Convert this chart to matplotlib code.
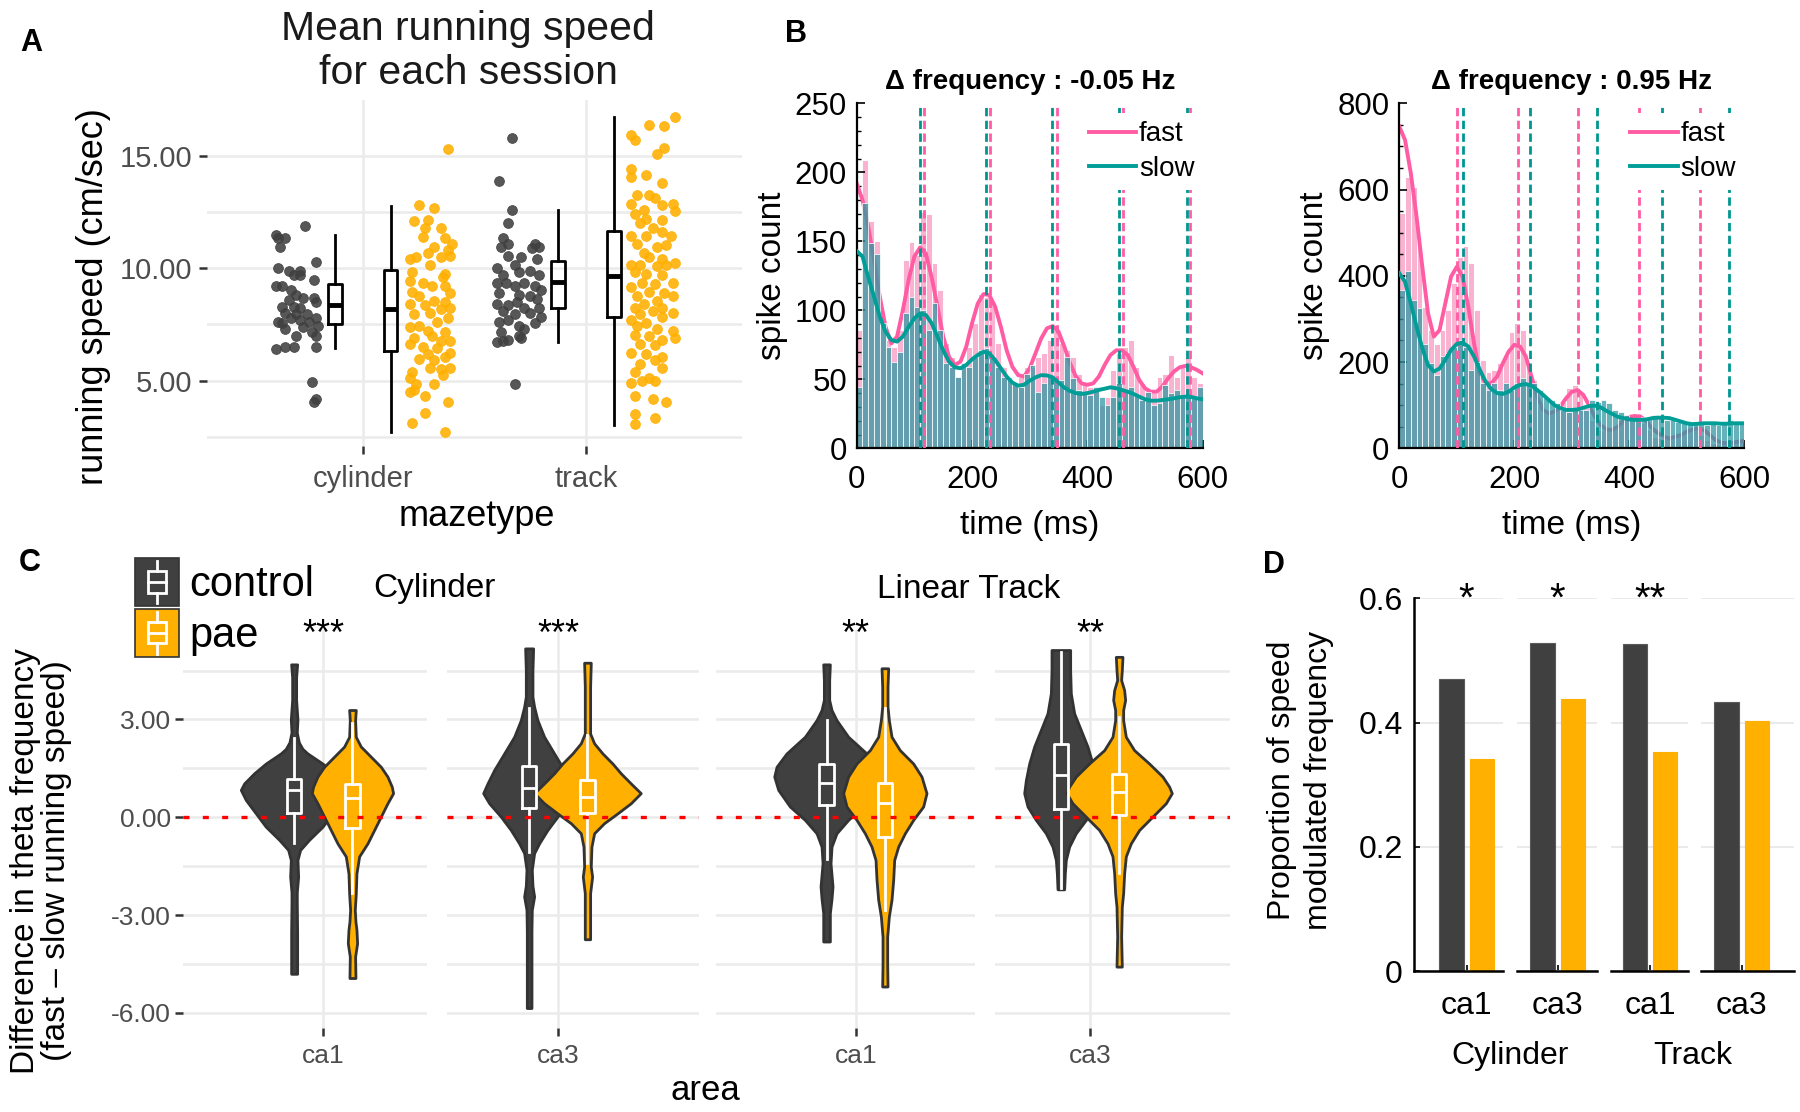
import numpy as np
import matplotlib
matplotlib.use('Agg')
import matplotlib.pyplot as plt
from matplotlib.ticker import MultipleLocator
from matplotlib.legend_handler import HandlerBase
from matplotlib.patches import Rectangle, Patch
from matplotlib.lines import Line2D

plt.rcParams['font.family'] = ['Liberation Sans', 'DejaVu Sans']

W, H = 1800, 1112
DARK = '#404040'
GOLD = '#FFB000'
PINK = '#FF5CA3'
TEAL = '#009E97'
GRID = '#EBEBEB'
GRAYTXT = '#4D4D4D'

# ---------------- A: running speed per session ----------------
mazes = ['cylinder', 'track']
cyl_ctrl_speed = [11.9, 11.5, 11.35, 11.35, 10.95, 10.3, 10.0, 9.9, 9.9, 9.7, 9.7, 9.2, 9.2, 9.5, 9.05,
                  8.8, 8.6, 8.7, 8.7, 8.3, 8.3, 8.25, 8.5, 8.0, 7.95, 7.95, 7.6, 7.55, 7.8, 7.7, 7.6,
                  7.8, 7.45, 7.3, 7.4, 7.15, 7.0, 7.0, 6.4, 6.5, 6.5, 6.5, 4.95, 4.2, 4.05]
cyl_ctrl_jit = [0.04, -0.09, -0.08, -0.05, -0.07, 0.09, -0.08, -0.03, 0.02, -0.01, 0.02, -0.09, -0.06, 0.08, -0.02,
                0.0, -0.03, 0.03, 0.08, -0.06, -0.01, 0.02, 0.09, -0.05, 0.0, 0.05, -0.08, -0.06, -0.02, 0.02, 0.06,
                0.09, 0.10, -0.05, 0.03, 0.07, 0.0, 0.09, -0.09, -0.05, -0.01, 0.09, 0.07, 0.09, 0.08]
cyl_pae_speed = [15.3, 12.8, 12.7, 12.1, 12.15, 11.8, 11.8, 11.4, 11.35, 11.1, 10.95, 10.8, 10.5, 10.7, 10.4,
                 10.5, 10.55, 10.15, 9.85, 9.75, 9.6, 9.45, 9.35, 9.2, 9.2, 8.95, 8.9, 8.75, 8.55, 8.5, 8.4,
                 8.35, 8.25, 8.2, 7.95, 8.0, 7.8, 7.6, 7.45, 7.4, 7.2, 7.15, 7.0, 6.9, 6.75, 6.75, 6.65, 6.5,
                 6.45, 6.25, 6.2, 6.05, 5.9, 5.95, 5.55, 5.5, 5.4, 5.55, 5.25, 5.1, 4.85, 4.85, 4.5, 4.6, 4.3,
                 4.05, 3.55, 3.1, 2.7]
cyl_pae_jit = [0.08, -0.05, 0.02, -0.07, -0.01, -0.02, 0.05, -0.03, 0.07, 0.10, 0.02, 0.08, 0.05, -0.01, -0.09,
               -0.06, 0.09, 0.0, -0.08, 0.07, 0.06, -0.09, -0.03, 0.01, 0.07, -0.08, 0.09, -0.05, 0.02, 0.07, -0.09,
               -0.02, 0.09, 0.05, -0.07, 0.0, 0.08, 0.03, -0.05, -0.09, -0.01, 0.07, 0.01, -0.07, 0.09, 0.05, -0.09, -0.03,
               0.03, 0.09, -0.01, 0.07, 0.02, -0.05, 0.09, 0.05, -0.08, 0.0, 0.06, -0.09, -0.06, 0.02, -0.09, -0.07, -0.02,
               0.08, -0.02, -0.08, 0.07]
trk_ctrl_speed = [15.8, 13.9, 12.6, 12.0, 11.35, 11.1, 10.95, 11.1, 10.95, 10.9, 10.55, 10.5, 10.0, 10.15, 10.4,
                  9.9, 9.7, 9.85, 9.7, 9.35, 9.35, 9.2, 9.35, 9.2, 9.05, 8.9, 8.8, 8.75, 8.65, 8.4, 8.35, 8.5,
                  8.25, 8.25, 8.1, 7.95, 8.0, 7.85, 7.6, 7.7, 7.45, 7.55, 7.3, 7.15, 7.0, 6.9, 6.7, 6.75, 6.8, 4.85]
trk_ctrl_jit = [-0.03, -0.09, -0.03, -0.05, -0.07, -0.05, -0.08, 0.07, 0.09, 0.06, -0.05, 0.01, -0.10, -0.02, 0.08,
                0.05, -0.07, 0.0, 0.09, -0.10, -0.06, -0.02, 0.02, 0.07, 0.10, -0.09, 0.0, 0.05, 0.08, -0.10, -0.05, -0.01,
                0.02, 0.09, -0.07, -0.02, 0.05, 0.10, -0.09, -0.05, 0.0, 0.07, 0.02, -0.08, 0.0, 0.01, -0.10, -0.07, -0.05, -0.02]
trk_pae_speed = [16.75, 16.4, 16.35, 15.95, 15.7, 15.35, 15.1, 14.4, 14.15, 14.05, 13.8, 13.25, 13.25, 13.15, 12.85,
                 12.8, 12.85, 12.6, 12.55, 12.4, 12.2, 12.15, 12.0, 11.8, 11.45, 11.45, 11.6, 11.45, 11.1, 10.95,
                 11.05, 10.7, 10.15, 10.5, 10.4, 10.25, 10.15, 10.1, 10.15, 9.85, 9.75, 9.7, 9.35, 9.3, 9.35, 9.15,
                 8.95, 8.9, 8.75, 8.55, 8.75, 8.4, 8.25, 8.25, 8.1, 8.0, 7.95, 7.7, 7.85, 7.55, 7.45, 7.3, 7.2, 7.05,
                 7.0, 6.8, 6.9, 6.65, 6.6, 6.25, 6.2, 6.05, 5.75, 5.9, 5.4, 5.55, 5.1, 4.9, 5.0, 5.0, 4.3, 4.2, 4.05,
                 3.5, 3.35, 3.05]
trk_pae_jit = [0.10, -0.02, 0.05, -0.10, -0.08, 0.05, 0.02, -0.10, -0.03, -0.10, 0.04, -0.07, -0.02, 0.01, -0.10,
               0.04, 0.09, -0.04, 0.10, -0.08, -0.03, 0.04, -0.06, 0.0, -0.10, -0.03, 0.04, 0.08, -0.07, 0.02,
               0.06, -0.04, -0.10, -0.02, 0.04, 0.10, -0.06, 0.02, 0.06, -0.08, -0.03, 0.04, -0.05, 0.01, 0.09, -0.10,
               -0.02, 0.05, -0.07, 0.02, 0.09, -0.04, -0.08, 0.04, 0.0, 0.09, -0.06, -0.10, 0.04, -0.03, -0.07, 0.02, 0.09, -0.08,
               -0.02, 0.04, 0.10, -0.06, 0.01, -0.10, -0.03, 0.04, -0.06, 0.01, -0.08, 0.04, -0.02, -0.10, -0.05, 0.01, -0.08, 0.0, 0.06,
               -0.08, 0.01, -0.08]
# box stats: q1, median, q3, whisker low, whisker high
box_cyl_ctrl = [7.5, 8.37, 9.29, 6.44, 11.48]
box_cyl_pae = [6.33, 8.17, 9.92, 2.73, 12.77]
box_trk_ctrl = [8.22, 9.4, 10.33, 6.73, 12.6]
box_trk_pae = [7.85, 9.66, 11.66, 3.03, 16.75]

# ---------------- B: spike-time histograms ----------------
b1_fast_hist = [85.7, 209, 165, 150, 90, 78.5, 73.7, 85.7, 136.5, 149.8, 140, 171.5, 170, 134, 114.7, 76, 66.4, 52, 62, 73.7,
                90.6, 112, 110, 105, 76, 59, 52, 47, 52, 59, 59, 66.4, 69, 78.5, 85.7, 76, 71, 66.4, 54, 47,
                44.7, 42.3, 31.4, 37.4, 56.8, 69, 73.7, 78.5, 59, 47, 42.3, 40, 52, 54, 67.6, 52, 59, 66.4, 52, 47]
b1_slow_hist = [44.7, 177.5, 148.5, 141, 90.6, 73.7, 62.8, 70, 97.8, 110, 102.7, 100, 85.7, 105, 85.7, 61.6, 59, 52, 61.6, 59,
                66.4, 71, 72.5, 66.4, 59, 52, 49.5, 47, 44.7, 54, 60.4, 41, 47, 52, 52, 49.5, 66.4, 50.7, 42.3, 40,
                38.6, 44.7, 37.4, 31.4, 37.4, 47, 42.3, 44.7, 38.6, 35, 41, 31.4, 32.6, 46, 40, 42.3, 37.4, 40, 37.4, 44.7]
b1_fast_fit = [192, 180, 160.6, 136.5, 110, 88, 76, 81, 100, 122, 139, 145.6, 141, 124, 102.7, 81, 66.4, 60.4, 62.8, 73.7,
               90.6, 105, 111.8, 111, 102.7, 88, 71, 59, 53, 52, 58, 68.8, 79.7, 87, 88.6, 84.5, 73.7, 61.6, 52, 47,
               46, 47, 52, 60.4, 67.6, 71, 71, 67.6, 59, 49.5, 43.5, 41, 41, 44.7, 50.7, 55.6, 58.7, 59.7, 58.7, 56.8, 54.3]
b1_slow_fit = [143, 139, 124, 110, 95.4, 84.5, 78.5, 77.3, 81, 88, 94.2, 97.8, 96.6, 90.6, 81, 71, 62.8, 58.7, 58, 60.4,
               64.5, 67.6, 70, 68.8, 64, 58, 52, 47.6, 45.4, 46, 49, 51.4, 53, 52.8, 51.4, 47.6, 44, 41.5, 40, 39.4,
               40, 41, 42.3, 43.2, 44.2, 43.5, 42.3, 41, 39.4, 37.4, 35.5, 34.5, 34.5, 35, 35.5, 36.2, 37, 37.4, 37.2, 36.2, 35.5]
b1_fast_peaks = [117, 232, 347, 462, 578]
b1_slow_peaks = [110, 225, 339, 455, 572]

b2_fast_hist = [545, 630, 607, 468, 328, 274, 243, 274, 321, 383, 444, 468, 429, 321, 205, 178, 182, 197, 216, 270,
                290, 274, 197, 158, 97, 81, 81, 100, 108, 139, 147, 131, 93, 66, 43, 43, 46, 50, 66, 70,
                77, 70, 58, 43, 27, 23, 27, 31, 35, 39, 46, 43, 31, 19, 12, 10, 12, 13, 15, 19]
b2_slow_hist = [367, 410, 344, 325, 243, 197, 170, 213, 220, 236, 251, 236, 182, 201, 151, 135, 151, 135, 151, 135,
                151, 162, 147, 151, 135, 116, 112, 104, 89, 85, 93, 89, 89, 112, 108, 112, 104, 89, 85, 77,
                70, 70, 73, 70, 77, 70, 66, 66, 62, 58, 58, 62, 58, 54, 58, 54, 58, 66, 58, 58]
b2_fast_fit = [746, 715, 638, 537, 421, 313, 259, 274, 336, 398, 421, 398, 328, 243, 174, 151, 151, 166, 197, 224,
               240, 236, 213, 166, 120, 89, 81, 85, 97, 116, 131, 135, 124, 100, 73, 54, 44, 42.5, 50, 64,
               73, 75, 73, 62, 46, 35, 27, 23, 27, 31, 39, 44, 46, 42.5, 31, 19, 13, 11.6, 13, 15.5, 17.8]
b2_slow_fit = [406, 386, 336, 282, 232, 193, 178, 185, 205, 228, 242, 245, 236, 213, 182, 155, 137, 128, 126, 131,
               141, 147, 149, 145, 135, 124, 112, 100, 93, 89, 89, 90, 94, 98, 99, 95, 87, 80, 73, 70,
               67, 66, 66, 67, 70, 71, 71, 70, 66, 62, 58, 56, 57, 58, 58, 58, 57, 57, 58, 58, 58]
b2_fast_peaks = [101, 206, 310, 416, 523]
b2_slow_peaks = [110, 227, 344, 456, 574]
bin_starts = np.arange(0, 600, 10)
fit_t = np.arange(0, 601, 10)

# ---------------- C: violin profiles (y value, relative half width) ----------------
areas = ['ca1', 'ca3', 'ca1', 'ca3']
c_stars = ['***', '***', '**', '**']
v_ctrl_y = [
    [4.69, 4.3, 3.6, 3.0, 2.6, 2.3, 2.1, 1.96, 1.65, 1.35, 1.04, 0.84, 0.53, 0.12, -0.29, -0.69, -1.0, -1.31, -1.82, -2.3, -2.64, -3.5, -4.3, -4.8],
    [5.18, 4.5, 3.7, 3.39, 2.98, 2.47, 1.96, 1.45, 1.04, 0.74, 0.43, 0.02, -0.39, -0.8, -1.1, -1.61, -2.1, -2.43, -2.84, -3.5, -4.5, -5.85],
    [4.69, 4.2, 3.6, 3.29, 2.98, 2.47, 1.96, 1.55, 1.25, 0.84, 0.33, -0.08, -0.49, -0.9, -1.41, -2.12, -2.5, -2.94, -3.81],
    [5.13, 4.51, 3.8, 3.19, 2.68, 2.17, 1.65, 1.14, 0.74, 0.33, -0.08, -0.49, -0.9, -1.31, -1.72, -2.21],
]
v_ctrl_w = [
    [9, 6, 6, 10, 8, 14, 25, 40, 85, 120, 150, 160, 145, 115, 85, 45, 18, 10, 12, 8, 8, 9, 9, 9],
    [12, 10, 10, 15, 25, 45, 75, 105, 125, 138, 120, 85, 55, 30, 15, 8, 10, 15, 8, 7, 7, 7],
    [10, 8, 8, 15, 30, 65, 120, 150, 157, 145, 110, 65, 30, 15, 12, 18, 15, 10, 10],
    [28, 28, 30, 40, 60, 80, 95, 105, 110, 100, 75, 45, 25, 15, 12, 10],
]
v_pae_y = [
    [3.29, 2.98, 2.47, 2.17, 1.86, 1.55, 1.25, 0.94, 0.74, 0.43, 0.02, -0.39, -0.8, -1.2, -1.72, -2.33, -2.84, -3.2, -3.45, -3.86, -4.27, -4.93],
    [4.74, 4.0, 3.2, 2.57, 2.27, 1.96, 1.65, 1.35, 1.04, 0.74, 0.43, 0.12, -0.18, -0.49, -0.9, -1.51, -1.82, -2.33, -3.15, -3.74],
    [4.57, 4.0, 3.4, 2.98, 2.47, 2.06, 1.65, 1.25, 0.74, 0.33, -0.08, -0.49, -0.9, -1.31, -1.92, -2.53, -3.04, -3.66, -4.47, -5.19],
    [4.92, 4.51, 4.21, 3.9, 3.6, 3.29, 2.98, 2.47, 2.06, 1.65, 1.25, 0.94, 0.74, 0.43, 0.02, -0.39, -0.8, -1.2, -1.72, -2.33, -2.74, -3.66, -4.58],
]
v_pae_w = [
    [10, 8, 10, 25, 55, 85, 105, 118, 122, 105, 85, 65, 45, 20, 12, 10, 7, 9, 12, 14, 8, 9],
    [10, 8, 8, 8, 20, 45, 75, 100, 130, 160, 130, 90, 50, 20, 12, 10, 14, 8, 8, 8],
    [10, 8, 8, 12, 20, 45, 85, 110, 125, 115, 85, 60, 40, 28, 25, 20, 12, 7, 7, 8],
    [10, 8, 6, 15, 18, 12, 12, 20, 45, 90, 130, 150, 158, 140, 100, 60, 35, 20, 15, 12, 8, 6, 8],
]
# q1, median, q3, whisker low, whisker high
c_box_ctrl = [[0.12, 0.84, 1.16, -0.8, 2.42], [0.3, 0.89, 1.58, -1.05, 3.34],
              [0.38, 1.04, 1.62, -1.29, 2.98], [0.26, 1.3, 2.24, -2.18, 5.08]]
c_box_pae = [[-0.34, 0.6, 1.01, -2.33, 2.88], [0.14, 0.63, 1.14, -1.41, 2.52],
             [-0.59, 0.43, 1.04, -2.84, 3.34], [0.07, 0.79, 1.33, -1.72, 3.08]]

# ---------------- D: proportion of speed-modulated cells ----------------
d_ctrl = [0.471, 0.528, 0.526, 0.433]
d_pae = [0.341, 0.438, 0.353, 0.403]
d_stars = ['*', '*', '**', '']


def stat(b):
    return dict(q1=b[0], med=b[1], q3=b[2], whislo=b[3], whishi=b[4], fliers=[])


fig = plt.figure(figsize=(W / 100, H / 100), dpi=100)


def px_axes(x0, y0, x1, y1):
    return fig.add_axes([x0 / W, 1 - y1 / H, (x1 - x0) / W, (y1 - y0) / H])


def px_text(x, y, s, **kw):
    return fig.text(x / W, 1 - y / H, s, **kw)


# ===== panel A =====
axA = px_axes(206.6, 99.8, 742.3, 445.8)
axA.set_xlim(0.3, 2.7)
axA.set_ylim(2.1, 17.5)
for sp in axA.spines.values():
    sp.set_visible(False)
axA.set_yticks([5, 10, 15])
axA.set_yticklabels(['5.00', '10.00', '15.00'])
axA.set_yticks([2.5, 7.5, 12.5], minor=True)
axA.set_xticks([1, 2])
axA.set_xticklabels(mazes)
axA.grid(which='both', axis='y', color=GRID, lw=1.8)
axA.grid(which='major', axis='x', color=GRID, lw=1.8)
axA.set_axisbelow(True)
axA.tick_params(which='major', length=6, width=1.8, color='#333333', labelsize=21, labelcolor=GRAYTXT, pad=4)
axA.tick_params(which='minor', length=0)
axA.tick_params(axis='x', pad=8)

for xc, vals, jit, col in [(0.70, cyl_ctrl_speed, cyl_ctrl_jit, DARK), (1.30, cyl_pae_speed, cyl_pae_jit, GOLD),
                           (1.70, trk_ctrl_speed, trk_ctrl_jit, DARK), (2.30, trk_pae_speed, trk_pae_jit, GOLD)]:
    axA.scatter(xc + np.array(jit), vals, s=50, color=col, alpha=0.88, linewidths=0.6,
                edgecolors=col, zorder=2)
axA.bxp([stat(box_cyl_ctrl), stat(box_cyl_pae), stat(box_trk_ctrl), stat(box_trk_pae)],
        positions=[0.875, 1.125, 1.875, 2.125], widths=0.06, showcaps=False, showfliers=False,
        manage_ticks=False, boxprops=dict(color='black', lw=2), whiskerprops=dict(color='black', lw=2),
        medianprops=dict(color='black', lw=3.5), zorder=3)

px_text(468, 51, 'Mean running speed\nfor each session', ha='center', va='center', fontsize=29.5,
        linespacing=1.2, color='#1A1A1A')
px_text(94, 297, 'running speed (cm/sec)', ha='center', va='center', rotation=90, fontsize=26)
px_text(477, 517, 'mazetype', ha='center', va='center', fontsize=26)


# ===== panel B =====
def spike_panel(ax, fast_hist, slow_hist, fast_fit, slow_fit, fast_pk, slow_pk, ymax, ymajor, yminor, title):
    ax.bar(bin_starts, fast_hist, width=10, align='edge', color='#F9B3D1', edgecolor='white', lw=0.7, zorder=1)
    ax.plot(fit_t, fast_fit, color=PINK, lw=2.8, zorder=2, label='fast')
    ax.bar(bin_starts, slow_hist, width=10, align='edge', color='#3399A4', alpha=0.75, edgecolor='white',
           lw=0.7, zorder=2.5)
    for p in fast_pk:
        ax.axvline(p, color=PINK, lw=2, ls=(0, (3, 1.6)), zorder=3)
    for p in slow_pk:
        ax.axvline(p, color='#00968F', lw=2, ls=(0, (3, 1.6)), zorder=3)
    ax.plot(fit_t, slow_fit, color=TEAL, lw=2.8, zorder=4, label='slow')
    ax.set_xlim(0, 600)
    ax.set_ylim(0, ymax)
    ax.set_xticks([0, 200, 400, 600])
    ax.xaxis.set_minor_locator(MultipleLocator(50))
    ax.yaxis.set_major_locator(MultipleLocator(ymajor))
    ax.yaxis.set_minor_locator(MultipleLocator(yminor))
    ax.spines['top'].set_visible(False)
    ax.spines['right'].set_visible(False)
    for s in ['left', 'bottom']:
        ax.spines[s].set_linewidth(1.6)
    ax.tick_params(which='major', direction='in', length=6, width=1.2, labelsize=22.5, pad=7)
    ax.tick_params(which='minor', direction='in', length=3, width=1)
    ax.tick_params(axis='x', pad=12)
    ax.set_title(title, fontsize=20, fontweight='bold', pad=10)
    ax.legend(loc='upper right', bbox_to_anchor=(1.0, 0.972), borderaxespad=0, frameon=True, fancybox=False,
              facecolor='white', edgecolor='none', framealpha=1, fontsize=20, handlelength=1.7,
              handletextpad=0.1, labelspacing=0.3, borderpad=0.3)


axB1 = px_axes(856.7, 103.3, 1202.7, 448.3)
spike_panel(axB1, b1_fast_hist, b1_slow_hist, b1_fast_fit, b1_slow_fit, b1_fast_peaks, b1_slow_peaks,
            250, 50, 10, '\u0394 frequency : -0.05 Hz')
axB2 = px_axes(1399.3, 103.3, 1744.3, 448.3)
spike_panel(axB2, b2_fast_hist, b2_slow_hist, b2_fast_fit, b2_slow_fit, b2_fast_peaks, b2_slow_peaks,
            800, 200, 50, '\u0394 frequency : 0.95 Hz')
for x in [773, 1315]:
    px_text(x, 276, 'spike count', ha='center', va='center', rotation=90, fontsize=24)
for x in [1029.7, 1571.8]:
    px_text(x, 526, 'time (ms)', ha='center', va='center', fontsize=24)

# ===== panel C =====
c_panels = [(183.3, 427.3, 323.3), (446.7, 699, 558.3), (715.7, 975, 855.7), (995, 1230, 1090)]
C_TOP, C_BOT = 629.8, 1027.6
UNIT = 129.6      # pixels per x unit
WSCALE = 1 / 389  # violin half-width scale
for i, (x0, x1, tick) in enumerate(c_panels):
    ax = px_axes(x0, C_TOP, x1, C_BOT)
    ax.set_xlim(1 - (tick - x0) / UNIT, 1 + (x1 - tick) / UNIT)
    ax.set_ylim(-6.45, 5.75)
    for sp in ax.spines.values():
        sp.set_visible(False)
    ax.set_yticks([-6, -3, 0, 3])
    ax.set_yticks([-4.5, -1.5, 1.5, 4.5], minor=True)
    ax.set_xticks([1])
    ax.set_xticklabels([areas[i]])
    ax.grid(which='both', axis='y', color=GRID, lw=1.8)
    ax.grid(which='major', axis='x', color=GRID, lw=1.8)
    ax.set_axisbelow(True)
    ax.tick_params(which='minor', length=0)
    ax.tick_params(axis='x', length=6, width=1.8, color='#333333', labelsize=19, labelcolor=GRAYTXT, pad=6)
    if i == 0:
        ax.set_yticklabels(['-6.00', '-3.00', '0.00', '3.00'])
        ax.tick_params(axis='y', length=6, width=1.8, color='#333333', labelsize=19, labelcolor=GRAYTXT, pad=3)
    else:
        ax.tick_params(axis='y', length=0, labelleft=False)

    for xc, ys, ws, col in [(1 - 0.225, v_ctrl_y[i], v_ctrl_w[i], DARK), (1 + 0.225, v_pae_y[i], v_pae_w[i], GOLD)]:
        hw = np.array(ws) * WSCALE
        ax.fill_betweenx(ys, xc - hw, xc + hw, facecolor=col, edgecolor='#333333', lw=2, zorder=2)
    ax.bxp([stat(c_box_ctrl[i]), stat(c_box_pae[i])], positions=[1 - 0.225, 1 + 0.225], widths=0.11,
           showcaps=False, showfliers=False, manage_ticks=False,
           boxprops=dict(color='white', lw=2), whiskerprops=dict(color='white', lw=2),
           medianprops=dict(color='white', lw=2), zorder=3)
    ax.axhline(0, color='#FF0000', lw=2.4, ls=(0, (1.8, 4)), zorder=4)
    ax.annotate(c_stars[i], xy=(1, 1), xycoords=('data', 'axes fraction'), xytext=(0, -11),
                textcoords='offset points', ha='center', va='baseline', fontsize=26)

px_text(434.4, 589, 'Cylinder', ha='center', va='center', fontsize=24)
px_text(968.4, 589, 'Linear Track', ha='center', va='center', fontsize=24)
px_text(41, 861, 'Difference in theta frequency\n(fast \u2013 slow running speed)', ha='center', va='center',
        rotation=90, fontsize=24, linespacing=1.0)
px_text(705, 1091, 'area', ha='center', va='center', fontsize=25)


class BoxKey(HandlerBase):
    def create_artists(self, legend, orig_handle, xdescent, ydescent, width, height, fontsize, trans):
        x0, y0 = -xdescent, -ydescent
        face = orig_handle.get_facecolor()
        bg = Rectangle((x0, y0), width, height, facecolor=face, edgecolor='#333333', lw=1.2, transform=trans)
        bx = Rectangle((x0 + 0.3 * width, y0 + 0.28 * height), 0.4 * width, 0.44 * height,
                       facecolor='none', edgecolor='white', lw=2, transform=trans)
        w1 = Line2D([x0 + width / 2] * 2, [y0 + 0.06 * height, y0 + 0.28 * height], color='white', lw=2,
                    transform=trans)
        w2 = Line2D([x0 + width / 2] * 2, [y0 + 0.72 * height, y0 + 0.94 * height], color='white', lw=2,
                    transform=trans)
        md = Line2D([x0 + 0.3 * width, x0 + 0.7 * width], [y0 + 0.5 * height] * 2, color='white', lw=2,
                    transform=trans)
        return [bg, bx, w1, w2, md]


fig.legend([Patch(facecolor=DARK), Patch(facecolor=GOLD)], ['control', 'pae'],
           handler_map={Patch: BoxKey()}, loc='upper left', bbox_to_anchor=(135 / W, 1 - 558 / H),
           frameon=False, fontsize=30, handlelength=1.05, handleheight=1.4, handletextpad=0.25,
           labelspacing=0.06, borderpad=0, borderaxespad=0)

# ===== panel D =====
d_panels = [(1414, 1502.5, 1466.7), (1516.7, 1597, 1557.7), (1610.6, 1687.5, 1650), (1701, 1793.6, 1741.6)]
D_TOP, D_BOT = 598.4, 971.2
DU = 30.5
for i, (x0, x1, tick) in enumerate(d_panels):
    ax = px_axes(x0, D_TOP, x1, D_BOT)
    ax.set_xlim(1.5 - (tick - x0) / DU, 1.5 + (x1 - tick) / DU)
    ax.set_ylim(0, 0.6)
    ax.bar([1, 2], [d_ctrl[i], d_pae[i]], width=0.8, color=[DARK, GOLD], edgecolor=['#5A5A5A', GOLD],
           lw=0.8, zorder=2)
    ax.set_yticks([0, 0.2, 0.4, 0.6])
    ax.yaxis.grid(True, color='#E6E6E6', lw=1.2, zorder=0)
    ax.set_axisbelow(True)
    ax.set_xticks([1.5])
    ax.set_xticklabels([areas[i]])
    for s in ['top', 'right']:
        ax.spines[s].set_visible(False)
    ax.spines['bottom'].set_linewidth(1.8)
    ax.tick_params(axis='x', direction='in', length=4, width=1.2, labelsize=23, pad=14)
    if i == 0:
        ax.spines['left'].set_linewidth(1.8)
        ax.set_yticklabels(['0', '0.2', '0.4', '0.6'])
        ax.tick_params(axis='y', direction='in', length=4, width=1.2, labelsize=23, pad=8)
    else:
        ax.spines['left'].set_visible(False)
        ax.tick_params(axis='y', length=0, labelleft=False)
    if d_stars[i]:
        ax.annotate(d_stars[i], xy=(1.5, 0.6), xytext=(0, -9), textcoords='offset points',
                    ha='center', va='baseline', fontsize=29)

px_text(1509.7, 1056, 'Cylinder', ha='center', va='center', fontsize=23)
px_text(1693, 1056, 'Track', ha='center', va='center', fontsize=23)
px_text(1300.5, 780, 'Proportion of speed\nmodulated frequency', ha='center', va='center', rotation=90,
        fontsize=23, linespacing=1.3)

# panel letters
for letter, x, y in [('A', 31, 43), ('B', 796, 34), ('C', 30, 563), ('D', 1274, 565)]:
    px_text(x, y, letter, ha='center', va='center', fontsize=22, fontweight='bold')

fig.savefig('out.png', dpi=100)
